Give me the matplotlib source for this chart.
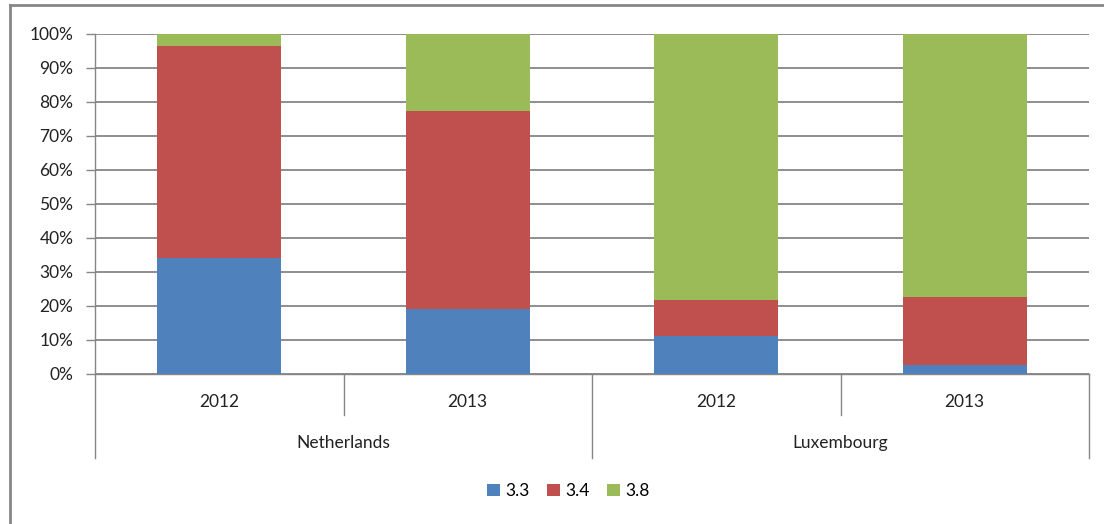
import matplotlib
matplotlib.use("Agg")
import matplotlib.pyplot as plt
from matplotlib.lines import Line2D
from matplotlib.patches import Patch
import matplotlib.transforms as mtransforms
import numpy as np

plt.rcParams['font.family'] = ['Lato', 'DejaVu Sans']

years = ["2012", "2013", "2012", "2013"]
countries = ["Netherlands", "Luxembourg"]
series_names = ["3.3", "3.4", "3.8"]
s33 = [34.1, 19.1, 11.3, 2.6]
s34 = [62.4, 58.3, 10.5, 20.0]
s38 = [3.5, 22.6, 78.2, 77.4]
colors = ["#4F81BD", "#C0504D", "#9BBB59"]
yticks = [0, 10, 20, 30, 40, 50, 60, 70, 80, 90, 100]

W, H = 1104, 524
FS = 12.5
fig = plt.figure(figsize=(W / 100, H / 100), dpi=100)
ax = fig.add_axes([95 / W, 1 - 374 / H, (1089 - 95) / W, (374 - 34) / H])

grid_c = "#868686"
x = np.arange(len(years))
bottom = np.zeros(len(years))
for vals, c, name in zip([s33, s34, s38], colors, series_names):
    ax.bar(x, vals, width=0.5, bottom=bottom, color=c, label=name, zorder=3)
    bottom += np.array(vals)

ax.set_xlim(-0.5, len(years) - 0.5)
ax.set_ylim(0, 100)
ax.set_yticks(yticks)
ax.set_yticklabels([f"{v}%" for v in yticks], fontsize=FS, color="#222222")
ax.set_xticks([])
ax.yaxis.grid(True, color=grid_c, linewidth=1.3, zorder=0)
ax.tick_params(axis="y", length=6.5, width=1, color=grid_c, pad=9)
for s in ["top", "right"]:
    ax.spines[s].set_visible(False)
for s in ["left", "bottom"]:
    ax.spines[s].set_color(grid_c)
    ax.spines[s].set_linewidth(1)

# category axis (two levels)
tr = mtransforms.blended_transform_factory(ax.transData, fig.transFigure)
def fy(py):
    return 1 - py / H
for xs in [0.5, 2.5]:
    fig.add_artist(Line2D([xs, xs], [fy(374), fy(415)], transform=tr, color=grid_c, lw=1))
for xs in [-0.5, 1.5, 3.5]:
    fig.add_artist(Line2D([xs, xs], [fy(374), fy(458)], transform=tr, color=grid_c, lw=1))
for i, yr in enumerate(years):
    fig.text(i, fy(402), yr, transform=tr, ha="center", va="center", fontsize=FS, color="#222222")
for j, cn in enumerate(countries):
    fig.text(2 * j + 0.5, fy(443), cn, transform=tr, ha="center", va="center", fontsize=FS, color="#222222")

handles = [Patch(facecolor=c, label=n) for c, n in zip(colors, series_names)]
fig.legend(handles=handles, loc="center", bbox_to_anchor=(568 / W, fy(491)), ncol=3, frameon=False,
           fontsize=FS, handlelength=0.75, handleheight=0.75, handletextpad=0.3, columnspacing=1.0)

# outer chart border (partially visible)
fig.add_artist(Line2D([9.5 / W, 9.5 / W], [0, fy(5)], transform=fig.transFigure, color=grid_c, lw=2))
fig.add_artist(Line2D([9.5 / W, 1], [fy(5), fy(5)], transform=fig.transFigure, color=grid_c, lw=2))

fig.savefig("out.png", dpi=100)
